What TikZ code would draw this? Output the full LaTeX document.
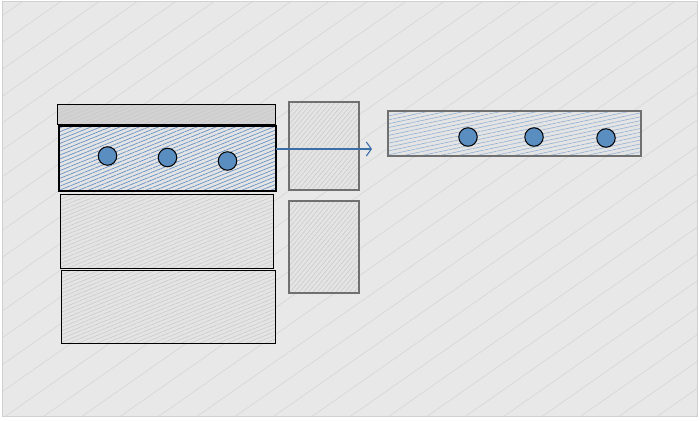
\documentclass[tikz,border=0pt]{standalone}
\usetikzlibrary{patterns.meta,arrows.meta}
\definecolor{bgfill}{HTML}{E8E8E8}
\definecolor{bgline}{HTML}{D6D6D6}
\definecolor{bgborder}{HTML}{D0D0D0}
\definecolor{boxfill}{HTML}{E4E4E4}
\definecolor{boxhatch}{HTML}{C8C8C8}
\definecolor{topfill}{HTML}{D2D2D2}
\definecolor{bluehatch}{HTML}{6792C6}
\definecolor{dotblue}{HTML}{5A8DC0}
\definecolor{arrowblue}{HTML}{3B6FA8}
\definecolor{greyedge}{HTML}{707070}
\tikzset{
  bgbox/.style={draw=bgborder, line width=1pt, preaction={fill=bgfill},
    pattern={Lines[angle=35,distance=22pt,line width=0.6pt]}, pattern color=bgline},
  slab/.style={rectangle, draw=black, line width=1pt, inner sep=0pt,
    preaction={fill=boxfill},
    pattern={Lines[angle=22,distance=3.5pt,line width=0.5pt]}, pattern color=boxhatch},
  topslab/.style={slab, preaction={fill=topfill}},
  sidebox/.style={slab, draw=greyedge, line width=1.1pt,
    pattern={Lines[angle=50,distance=3.5pt,line width=0.5pt]}},
  blueslab/.style={rectangle, draw=black, line width=1.1pt, inner sep=0pt,
    preaction={fill=boxfill},
    pattern={Lines[angle=22,distance=3.6pt,line width=0.7pt]}, pattern color=bluehatch},
  bluebar/.style={blueslab, draw=greyedge, line width=1.1pt,
    pattern={Lines[angle=12,distance=3.8pt,line width=0.55pt]}, pattern color=bluehatch!75!white},
  dot/.style={circle, draw=black, line width=1pt, fill=dotblue, minimum size=18.5pt, inner sep=0pt},
  conn/.style={draw=arrowblue, line width=1.1pt, -{Straight Barb[length=5pt,width=14pt]}}
}
\begin{document}
\begin{tikzpicture}[x=1pt,y=-1pt]
\useasboundingbox (0,0) rectangle (700,420);
\path[bgbox] (2,2) rectangle (697,416);
% left stack
\node[topslab, minimum width=218pt, minimum height=20pt] (top) at (166,114) {};
\node[blueslab, minimum width=217pt, minimum height=65pt] (blue) at (167.5,158.5) {};
\node[slab, minimum width=213pt, minimum height=74pt] (mid) at (166.5,231) {};
\node[slab, minimum width=214pt, minimum height=73pt] (bot) at (168,306.5) {};
% side boxes
\node[sidebox, minimum width=70pt, minimum height=88pt] (sideA) at (324,146) {};
\node[sidebox, minimum width=70pt, minimum height=92pt] (sideB) at (324,247) {};
% dots in blue slab
\node[dot] (d1) at (107.5,156) {};
\node[dot] (d2) at (167.5,157.5) {};
\node[dot] (d3) at (227.5,161) {};
% right bar
\node[bluebar, minimum width=253pt, minimum height=45pt] (bar) at (514.5,133.5) {};
\node[dot] (e1) at (468,137) {};
\node[dot] (e2) at (534,137) {};
\node[dot] (e3) at (606,138) {};
% connector
\coordinate (aStart) at (blue.east |- 0,149);
\coordinate (aEnd) at (372,149);
\draw[conn] (aStart) -- (aEnd);
\end{tikzpicture}
\end{document}
